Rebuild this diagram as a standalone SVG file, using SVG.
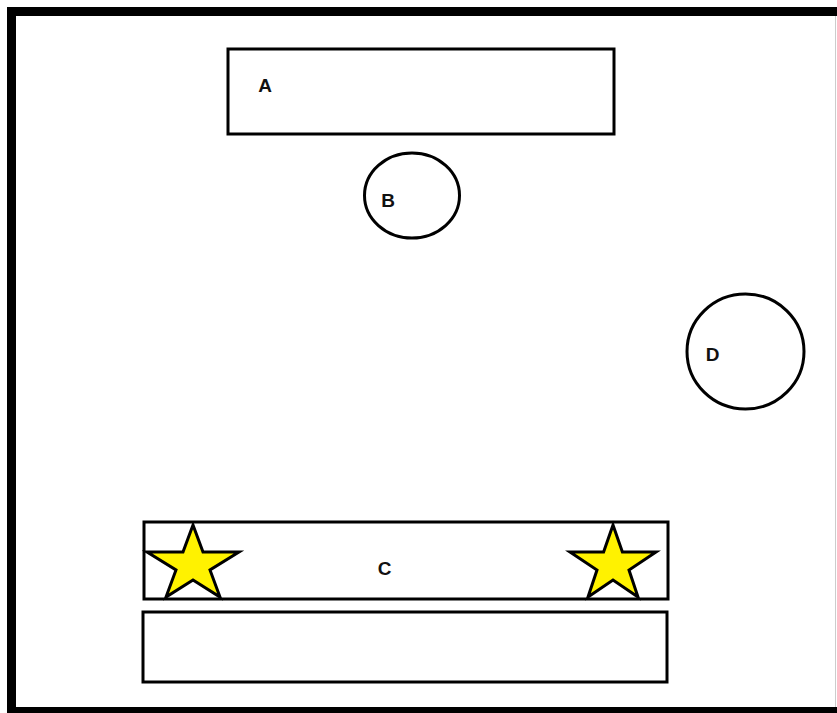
<svg xmlns="http://www.w3.org/2000/svg" width="837" height="713" viewBox="0 0 837 713">
<style>
.shape{fill:#fff;stroke:#000;stroke-width:3}
.star{fill:#fff200;stroke:#000;stroke-width:3;stroke-linejoin:miter}
.lbl{font-family:"Liberation Sans",Arial,sans-serif;font-weight:bold;font-size:19px;fill:#111;text-anchor:middle}
</style>
<rect width="837" height="713" fill="#fff"/>
<rect id="frame" x="11.5" y="11.5" width="832" height="700" fill="none" stroke="#000" stroke-width="9"/>
<line x1="835.5" y1="16" x2="835.5" y2="707" stroke="#ccc" stroke-width="1"/>
<g id="A">
<rect class="shape" x="228" y="49" width="386" height="85"/>
<text class="lbl" x="265" y="92">A</text>
</g>
<g id="B">
<ellipse class="shape" cx="412" cy="195.5" rx="47.5" ry="42.5"/>
<text class="lbl" x="388" y="207">B</text>
</g>
<g id="D">
<ellipse class="shape" cx="745.5" cy="351.5" rx="58.5" ry="57.5"/>
<text class="lbl" x="712.5" y="361">D</text>
</g>
<g id="C">
<rect class="shape" x="144" y="522" width="524" height="77"/>
<polygon class="star" points="193,525 203,552 239,552 210,570 220,597 193,580 166,597 176,570 147,552 183,552"/>
<polygon class="star" points="613,525 622.4,552 656,552 629,570 638,597 613,580 588,597 597,570 570,552 603.6,552"/>
<text class="lbl" x="384.5" y="575">C</text>
</g>
<g id="E">
<rect class="shape" x="143" y="612" width="524" height="70"/>
</g>
<g id="connectors"></g>
</svg>
